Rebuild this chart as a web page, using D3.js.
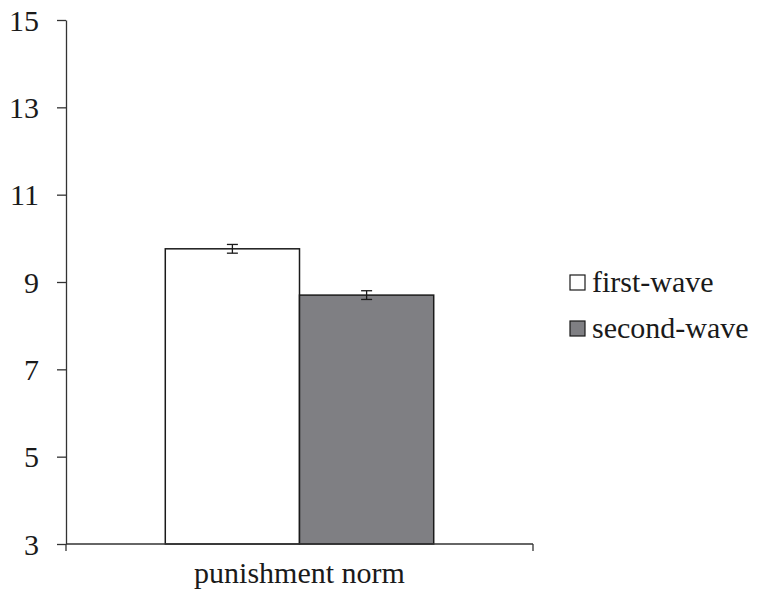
<!DOCTYPE html>
<html>
<head>
<meta charset="utf-8">
<script src="https://cdn.jsdelivr.net/npm/d3@7"></script>
<style>
  body { margin: 0; background: #fff; }
  text { font-family: "Liberation Serif", "Times New Roman", serif; fill: #1a1a1a; }
</style>
</head>
<body>
<div id="chart"></div>
<script>
// data
var categories = ["punishment norm"];
var series = ["first-wave", "second-wave"];
var means = [9.76, 8.70];
var errors = [0.10, 0.10];
var yTicks = [3, 5, 7, 9, 11, 13, 15];

var W = 757, H = 592;
var margin = {left: 66, top: 20, right: 224, bottom: 48};
var width = W - margin.left - margin.right,
    height = H - margin.top - margin.bottom;

var svg = d3.select("#chart").append("svg")
    .attr("width", W).attr("height", H)
  .append("g")
    .attr("transform", "translate(" + margin.left + "," + margin.top + ")");

var x0 = d3.scaleBand().domain(categories).range([0, width]).padding(0.27);
var x1 = d3.scaleBand().domain(series).range([0, x0.bandwidth()]);
var y = d3.scaleLinear().domain([3, 15]).range([height, 0]);
var fill = d3.scaleOrdinal().domain(series).range(["#ffffff", "#7f7f83"]);

// bars
var g = svg.selectAll("g.cat").data(categories).enter().append("g")
    .attr("transform", function(d) { return "translate(" + x0(d) + ",0)"; });

series.forEach(function(s, i) {
    g.append("rect")
        .attr("x", x1(s))
        .attr("y", y(means[i]))
        .attr("width", x1.bandwidth())
        .attr("height", height - y(means[i]))
        .attr("fill", fill(s))
        .attr("stroke", "#1a1a1a")
        .attr("stroke-width", 1.5);

    // error bar
    var cx = x1(s) + x1.bandwidth() / 2;
    var e = g.append("g").attr("stroke", "#1a1a1a").attr("stroke-width", 1.3);
    e.append("line").attr("x1", cx).attr("x2", cx)
        .attr("y1", y(means[i] + errors[i])).attr("y2", y(means[i] - errors[i]));
    [errors[i], -errors[i]].forEach(function(v) {
        e.append("line").attr("x1", cx - 5.5).attr("x2", cx + 5.5)
            .attr("y1", y(means[i] + v)).attr("y2", y(means[i] + v));
    });
});

// y axis
var yAxis = svg.append("g")
    .call(d3.axisLeft(y).tickValues(yTicks).tickSize(9).tickPadding(18).tickSizeOuter(0));
yAxis.select(".domain").attr("stroke", "#333").attr("stroke-width", 1.3);
yAxis.selectAll(".tick line").attr("stroke", "#333").attr("stroke-width", 1.3);
yAxis.selectAll("text").style("font-size", "30px").attr("dy", "0.34em");

// x axis with boundary ticks
var xAxis = svg.append("g").attr("transform", "translate(0," + height + ")");
xAxis.append("line").attr("x1", 0).attr("x2", width)
    .attr("stroke", "#333").attr("stroke-width", 1.3);
[0, width].forEach(function(px) {
    xAxis.append("line").attr("x1", px).attr("x2", px).attr("y1", 0).attr("y2", 7)
        .attr("stroke", "#333").attr("stroke-width", 1.3);
});
xAxis.selectAll("text.cat").data(categories).enter().append("text")
    .attr("x", function(d) { return x0(d) + x0.bandwidth() / 2; })
    .attr("y", 39)
    .attr("text-anchor", "middle")
    .style("font-size", "30px")
    .text(function(d) { return d; });

// legend
var legend = svg.append("g").attr("transform", "translate(" + (width + 37) + ",0)");
series.forEach(function(s, i) {
    var ly = y(9) + i * 46;
    legend.append("rect")
        .attr("x", 0).attr("y", ly - 7)
        .attr("width", 15).attr("height", 15)
        .attr("fill", fill(s)).attr("stroke", "#1a1a1a").attr("stroke-width", 1.2);
    legend.append("text")
        .attr("x", 22).attr("y", ly).attr("dy", "0.32em")
        .style("font-size", "30px")
        .text(s);
});
</script>
</body>
</html>
